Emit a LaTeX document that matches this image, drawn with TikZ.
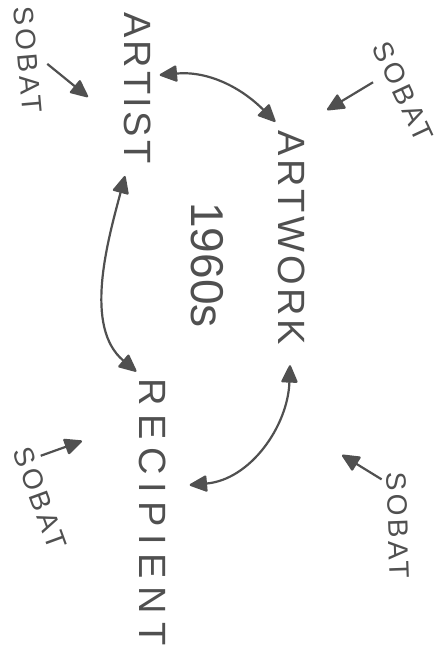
\documentclass[tikz,border=0pt]{standalone}
\usepackage{fontspec}
\setmainfont{Liberation Sans}
\newfontfamily\handfont[LetterSpace=9]{Liberation Sans}
\usetikzlibrary{arrows.meta,calc}
\definecolor{ink}{HTML}{505050}
\begin{document}
\begin{tikzpicture}[x=1pt, y=1pt,
  >={Triangle[length=19pt, width=17pt, round]},
  word/.style={text=ink, inner sep=3pt, rotate=-90,
    font=\handfont\fontsize{38}{38}\selectfont},
  tag/.style={text=ink, inner sep=3pt,
    font=\handfont\addfontfeature{LetterSpace=12}\fontsize{28}{28}\selectfont},
  link/.style={draw=ink, line width=2.2pt, <->},
  pointer/.style={draw=ink, line width=2.2pt, ->}]
  \useasboundingbox (0,0) rectangle (438,653);

  % The three corners and the decade
  \node[word] (artist) at (138,565) {ARTIST};
  \node[word] (artwork) at (292,415) {ARTWORK};
  \node[word, font=\handfont\addfontfeature{LetterSpace=21}\fontsize{38}{38}\selectfont]
    (recipient) at (153,141) {RECIPIENT};
  \node[word, font=\fontsize{46}{46}\selectfont] (years) at (207,388) {1960s};

  % Two-way links
  \draw[link] ([xshift=5pt, yshift=13pt]artist.north) to[out=5, in=135]
    ([yshift=6pt]artwork.south west);
  \draw[link] ([xshift=-13pt, yshift=-9pt]artist.east) to[out=255, in=140, looseness=0.9]
    ([yshift=4pt]recipient.south west);
  \draw[link] ([xshift=-2pt, yshift=-17pt]artwork.east) to[out=268, in=5]
    ([xshift=20pt, yshift=27pt]recipient.north);

  % Sobat in the four corners
  \node[tag, rotate=-85] (sobatTL) at (28,593) {SOBAT};
  \node[tag, rotate=-65] (sobatTR) at (403,561) {SOBAT};
  \node[tag, rotate=-70] (sobatBL) at (40,155) {SOBAT};
  \node[tag, rotate=-88] (sobatBR) at (398,128) {SOBAT};
  \coordinate (tipTL) at (88,556);
  \coordinate (tipTR) at (327,543);
  \coordinate (tipBL) at (82,212);
  \coordinate (tipBR) at (342,198);

  \draw[pointer, shorten <=8pt] (sobatTL.north) -- (tipTL);
  \draw[pointer, shorten <=10pt] ($(sobatTR.south west)!.6!(sobatTR.south)$) -- (tipTR);
  \draw[pointer, shorten <=2pt] ($(sobatBL.north west)!.3!(sobatBL.north)$) -- (tipBL);
  \draw[pointer, shorten <=2pt] ($(sobatBR.south west)!.2!(sobatBR.south)$) -- (tipBR);
\end{tikzpicture}
\end{document}
